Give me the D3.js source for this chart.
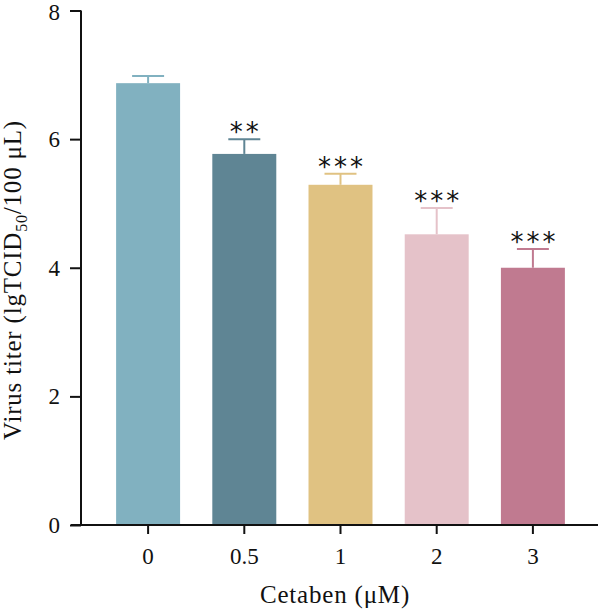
<!DOCTYPE html>
<html>
<head>
<meta charset="utf-8">
<script src="https://cdn.jsdelivr.net/npm/d3@7"></script>
<style>
  body { margin: 0; background: #fff; }
  text { font-family: "Liberation Serif", "DejaVu Serif", serif; fill: #111; }
</style>
</head>
<body>
<main></main>
<script>
const categories = ["0", "0.5", "1", "2", "3"];
const means = [6.87, 5.77, 5.29, 4.52, 4.0];
const errors = [0.11, 0.23, 0.17, 0.41, 0.29];
const stars = ["", "**", "***", "***", "***"];
const colors = ["#81b1c0", "#5f8594", "#e0c282", "#e5c2c9", "#c07a90"];
const yTicks = [0, 2, 4, 6, 8];

const w = 600;
const h = 610;

const svg = d3
  .select("main")
  .append("svg")
  .attr("width", w)
  .attr("height", h);

// scales
const yScale = d3.scaleLinear().domain([0, 8]).range([525, 10.5]);
const xScale = d3
  .scaleBand()
  .domain(categories)
  .range([100, 581])
  .paddingInner(0.335)
  .paddingOuter(0.1675);

const data = categories.map((c, i) => ({
  cat: c,
  mean: means[i],
  err: errors[i],
  star: stars[i],
  color: colors[i]
}));

// bars
svg
  .selectAll("rect.bar")
  .data(data)
  .enter()
  .append("rect")
  .attr("class", "bar")
  .attr("x", d => xScale(d.cat))
  .attr("y", d => yScale(d.mean))
  .attr("width", xScale.bandwidth())
  .attr("height", d => yScale(0) - yScale(d.mean))
  .style("fill", d => d.color);

// error bars (upper only)
const capW = xScale.bandwidth() / 2;
const eb = svg.selectAll("g.err").data(data).enter().append("g").attr("class", "err");
eb.append("line")
  .attr("x1", d => xScale(d.cat) + xScale.bandwidth() / 2)
  .attr("x2", d => xScale(d.cat) + xScale.bandwidth() / 2)
  .attr("y1", d => yScale(d.mean))
  .attr("y2", d => yScale(d.mean + d.err))
  .style("stroke", d => d.color)
  .style("stroke-width", 2);
eb.append("line")
  .attr("x1", d => xScale(d.cat) + xScale.bandwidth() / 2 - capW / 2)
  .attr("x2", d => xScale(d.cat) + xScale.bandwidth() / 2 + capW / 2)
  .attr("y1", d => yScale(d.mean + d.err))
  .attr("y2", d => yScale(d.mean + d.err))
  .style("stroke", d => d.color)
  .style("stroke-width", 2);

// significance stars
svg
  .selectAll("text.star")
  .data(data)
  .enter()
  .append("text")
  .attr("class", "star")
  .attr("x", d => xScale(d.cat) + xScale.bandwidth() / 2 + 1.5)
  .attr("y", d => yScale(d.mean + d.err) + 2)
  .attr("text-anchor", "middle")
  .style("font-family", "DejaVu Sans")
  .style("font-size", "26px")
  .style("letter-spacing", "3px")
  .text(d => d.star);

// y axis
const yAxis = svg
  .append("g")
  .attr("transform", "translate(81,0)")
  .call(d3.axisLeft(yScale).tickValues(yTicks).tickSize(11).tickPadding(10));
yAxis.select(".domain").attr("d", "M0," + yScale(8) + "V" + yScale(0));
yAxis.selectAll("line, path").style("stroke", "#111").style("stroke-width", 2);
yAxis.selectAll("text").style("font-size", "23px").style("font-family", "Liberation Serif");
yAxis.selectAll("text").filter(d => d === 8).attr("dy", "0.4em");

// x axis
const xAxis = svg
  .append("g")
  .attr("transform", "translate(0,525)")
  .call(d3.axisBottom(xScale).tickSize(9).tickPadding(14));
xAxis.select(".domain").attr("d", "M71,0H598");
xAxis.selectAll("line, path").style("stroke", "#111").style("stroke-width", 2);
xAxis.selectAll("text").style("font-size", "23px").style("font-family", "Liberation Serif");

// axis titles
svg
  .append("text")
  .attr("x", 335)
  .attr("y", 603)
  .attr("text-anchor", "middle")
  .style("font-size", "25px")
  .style("letter-spacing", "0.8px")
  .text("Cetaben (μM)");

const yt = svg
  .append("text")
  .attr("transform", "translate(21,280) rotate(-90)")
  .attr("text-anchor", "middle")
  .style("font-size", "25px")
  .style("letter-spacing", "0.8px");
yt.append("tspan").text("Virus titer (lgTCID");
yt.append("tspan").attr("dy", 6).style("font-size", "16px").text("50");
yt.append("tspan").attr("dy", -6).text("/100 μL)");
</script>
</body>
</html>
